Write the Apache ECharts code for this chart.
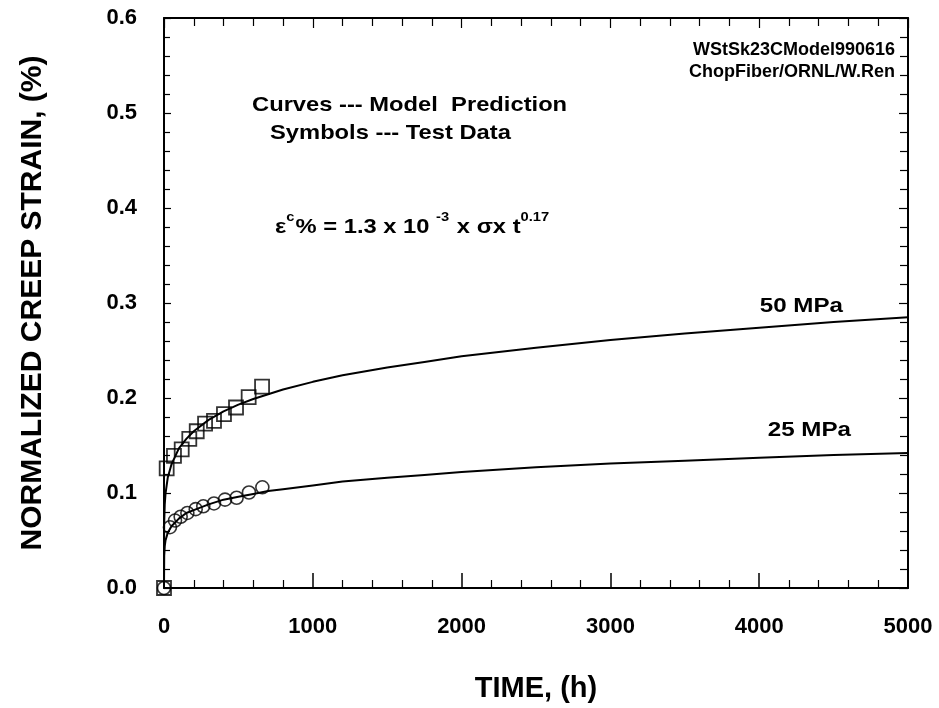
<!DOCTYPE html>
<html>
<head>
<meta charset="utf-8">
<script src="https://cdn.jsdelivr.net/npm/echarts@6/dist/echarts.min.js"></script>
<style>
  html, body { margin: 0; padding: 0; background: #fff; }
  #chart { width: 939px; height: 708px; }
</style>
</head>
<body>
<div id="chart"></div>
<script>
// ---- Data ----
const xTicks = [0, 1000, 2000, 3000, 4000, 5000];
const yTicks = [0.0, 0.1, 0.2, 0.3, 0.4, 0.5, 0.6];

// model curve sample times (h)
const curveTime = [0, 1, 5, 10, 25, 50, 100, 150, 200, 300, 400, 500, 600, 700, 800, 1000, 1200, 1500, 1750, 2000, 2500, 3000, 3500, 4000, 4500, 5000];
// model prediction, 50 MPa (%)
const curve50 = [0, 0.067, 0.088, 0.099, 0.116, 0.130, 0.147, 0.157, 0.165, 0.177, 0.186, 0.193, 0.199, 0.204, 0.209, 0.217, 0.224, 0.232, 0.238, 0.244, 0.253, 0.261, 0.268, 0.274, 0.280, 0.285];
// model prediction, 25 MPa (%)
const curve25 = [0, 0.034, 0.044, 0.050, 0.058, 0.065, 0.073, 0.079, 0.082, 0.088, 0.093, 0.096, 0.099, 0.102, 0.104, 0.108, 0.112, 0.116, 0.119, 0.122, 0.127, 0.131, 0.134, 0.137, 0.140, 0.142];

// test data, 50 MPa (squares)
const test50Time = [0, 18, 67, 119, 170, 220, 276, 336, 403, 484, 569, 659];
const test50Strain = [0, 0.126, 0.139, 0.146, 0.157, 0.165, 0.173, 0.176, 0.183, 0.190, 0.201, 0.212];
// test data, 25 MPa (circles)
const test25Time = [0, 40, 74, 112, 157, 213, 264, 336, 410, 488, 571, 661];
const test25Strain = [0, 0.064, 0.071, 0.075, 0.079, 0.083, 0.086, 0.089, 0.093, 0.095, 0.1005, 0.106];

const xTitle = 'TIME, (h)';
const yTitle = 'NORMALIZED CREEP STRAIN, (%)';
const seriesLabels = ['50 MPa', '25 MPa'];

// ---- Build ----
const zip = (a, b) => a.map((v, i) => [v, b[i]]);
const FONT = '"Liberation Sans", Arial, sans-serif';

const chart = echarts.init(document.getElementById('chart'), null, { renderer: 'canvas' });

const axisLineStyle = { color: '#000', width: 2 };

function txt(x, y, text, size, align, scaleX, vAlign) {
  return {
    type: 'text', x: x, y: y, scaleX: scaleX || 1, z: 100,
    style: {
      text: text, fill: '#000',
      font: 'bold ' + size + 'px ' + FONT,
      align: align, textAlign: align,
      verticalAlign: vAlign || 'middle', textVerticalAlign: vAlign || 'middle'
    }
  };
}

const option = {
  backgroundColor: '#fff',
  animation: false,
  grid: { left: 164, right: 31, top: 18, bottom: 115, containLabel: false },
  xAxis: [
    {
      type: 'value', min: xTicks[0], max: xTicks[xTicks.length - 1], interval: 1000,
      position: 'bottom',
      axisLine: { show: true, onZero: false, lineStyle: axisLineStyle },
      axisTick: { show: true, inside: true, length: 15, lineStyle: { color: '#000', width: 1.5 } },
      minorTick: { show: true, splitNumber: 5, length: 8, lineStyle: { color: '#000', width: 1.2 } },
      splitLine: { show: false },
      axisLabel: { show: true, margin: 28, color: '#000', fontFamily: FONT, fontWeight: 'bold', fontSize: 22,
        formatter: v => xTicks.includes(v) ? String(v) : '' },
      name: xTitle, nameLocation: 'middle', nameGap: 86,
      nameTextStyle: { color: '#000', fontFamily: FONT, fontWeight: 'bold', fontSize: 29 }
    },
    {
      type: 'value', min: xTicks[0], max: xTicks[xTicks.length - 1], interval: 1000,
      position: 'top',
      axisLine: { show: true, onZero: false, lineStyle: axisLineStyle },
      axisTick: { show: true, inside: true, length: 10, lineStyle: { color: '#000', width: 1.2 } },
      minorTick: { show: true, splitNumber: 5, length: 8, lineStyle: { color: '#000', width: 1.2 } },
      splitLine: { show: false },
      axisLabel: { show: false }
    }
  ],
  yAxis: [
    {
      type: 'value', min: yTicks[0], max: yTicks[yTicks.length - 1], interval: 0.1,
      position: 'left',
      axisLine: { show: true, onZero: false, lineStyle: axisLineStyle },
      axisTick: { show: true, inside: true, length: 7, lineStyle: { color: '#000', width: 1.2 } },
      minorTick: { show: true, splitNumber: 5, length: 6, lineStyle: { color: '#000', width: 1.2 } },
      splitLine: { show: false },
      axisLabel: { show: true, margin: 27, color: '#000', fontFamily: FONT, fontWeight: 'bold', fontSize: 22,
        formatter: v => v.toFixed(1) },
      name: yTitle, nameLocation: 'middle', nameGap: 116,
      nameTextStyle: { color: '#000', fontFamily: FONT, fontWeight: 'bold', fontSize: 30 }
    },
    {
      type: 'value', min: yTicks[0], max: yTicks[yTicks.length - 1], interval: 0.1,
      position: 'right',
      axisLine: { show: true, onZero: false, lineStyle: axisLineStyle },
      axisTick: { show: true, inside: true, length: 9, lineStyle: { color: '#000', width: 1.2 } },
      minorTick: { show: true, splitNumber: 5, length: 8, lineStyle: { color: '#000', width: 1.2 } },
      splitLine: { show: false },
      axisLabel: { show: false }
    }
  ],
  series: [
    {
      name: 'Model 50 MPa', type: 'line', xAxisIndex: 0, yAxisIndex: 0,
      data: zip(curveTime, curve50), showSymbol: false, symbol: 'none', smooth: false,
      lineStyle: { color: '#000', width: 2 }, z: 2
    },
    {
      name: 'Model 25 MPa', type: 'line', xAxisIndex: 0, yAxisIndex: 0,
      data: zip(curveTime, curve25), showSymbol: false, symbol: 'none', smooth: false,
      lineStyle: { color: '#000', width: 2 }, z: 2
    },
    {
      name: 'Test 50 MPa', type: 'scatter', xAxisIndex: 0, yAxisIndex: 0,
      data: zip(test50Time, test50Strain), symbol: 'rect', symbolSize: 14,
      itemStyle: { color: 'rgba(0,0,0,0)', borderColor: '#000', borderWidth: 1.8 }, z: 3
    },
    {
      name: 'Test 25 MPa', type: 'scatter', xAxisIndex: 0, yAxisIndex: 0,
      data: zip(test25Time, test25Strain), symbol: 'circle', symbolSize: 13,
      itemStyle: { color: 'rgba(0,0,0,0)', borderColor: '#000', borderWidth: 1.6 }, z: 3
    }
  ],
  graphic: [
    txt(895, 50, 'WStSk23CModel990616', 18, 'right', 1),
    txt(895, 72, 'ChopFiber/ORNL/W.Ren', 18, 'right', 1),
    txt(252, 105, 'Curves --- Model  Prediction', 21, 'left', 1.13),
    txt(270, 133, 'Symbols --- Test Data', 21, 'left', 1.13),
    {
      type: 'text', x: 275, y: 204, scaleX: 1.13, z: 100,
      style: {
        text: '{m|ε}{s|c}{m|% = 1.3 x 10 }{s|-3}{m| x σx t}{s|0.17}',
        align: 'left', textAlign: 'left', verticalAlign: 'top', textVerticalAlign: 'top',
        rich: {
          m: { fill: '#000', fontFamily: FONT, fontWeight: 'bold', fontSize: 21, lineHeight: 34, verticalAlign: 'bottom' },
          s: { fill: '#000', fontFamily: FONT, fontWeight: 'bold', fontSize: 13, lineHeight: 34, verticalAlign: 'bottom', padding: [0, 1, 14, 0] }
        }
      }
    },
    txt(843, 306, seriesLabels[0], 21, 'right', 1.15),
    txt(851, 430, seriesLabels[1], 21, 'right', 1.15)
  ]
};

chart.setOption(option);
</script>
</body>
</html>
